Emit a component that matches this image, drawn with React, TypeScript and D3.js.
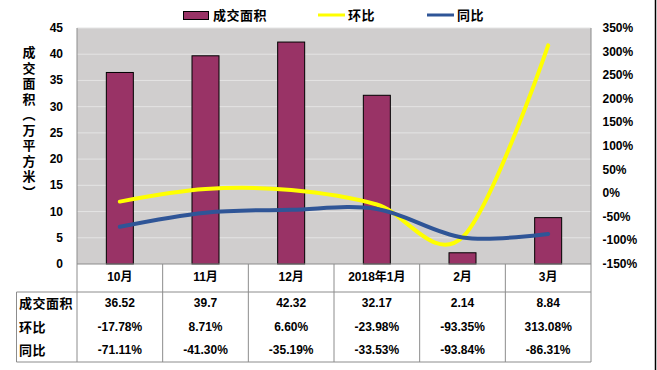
import React from "react";
import * as d3 from "d3";

const categories = ["10月", "11月", "12月", "2018年1月", "2月", "3月"];
const area = [36.52, 39.7, 42.32, 32.17, 2.14, 8.84];
const hb = [-17.78, 8.71, 6.6, -23.98, -93.35, 313.08];
const tb = [-71.11, -41.3, -35.19, -33.53, -93.84, -86.31];
const areaLabels = ["36.52", "39.7", "42.32", "32.17", "2.14", "8.84"];
const hbLabels = ["-17.78%", "8.71%", "6.60%", "-23.98%", "-93.35%", "313.08%"];
const tbLabels = ["-71.11%", "-41.30%", "-35.19%", "-33.53%", "-93.84%", "-86.31%"];
const leftTicks = [0, 5, 10, 15, 20, 25, 30, 35, 40, 45];
const rightTicks = [-150, -100, -50, 0, 50, 100, 150, 200, 250, 300, 350];
const seriesNames = ["成交面积", "环比", "同比"];
const yTitle = "成交面积（万平方米）";

const W = 657, H = 370;
const L = 77, R = 591, T = 28, B = 264;
const rowCat = 292, tableBottom = 362;
const tableLeft = 16.5;

const font = "'Liberation Sans', Arial, sans-serif";
const cjk = "'Noto Sans CJK SC', sans-serif";

export default function App() {
  const x = d3.scaleBand<string>().domain(categories).range([L, R]).paddingInner(0).paddingOuter(0);
  const yL = d3.scaleLinear().domain([0, 45]).range([B, T]);
  const yR = d3.scaleLinear().domain([-150, 350]).range([B, T]);
  const bw = x.bandwidth();
  const barW = 27;
  const cx = (c: string) => (x(c) as number) + bw / 2;
  const line = d3
    .line<number>()
    .x((_, i) => cx(categories[i]))
    .y((d) => yR(d))
    .curve(d3.curveCatmullRom.alpha(0));

  const rows = [
    { name: seriesNames[0], labels: areaLabels, y: 303 },
    { name: seriesNames[1], labels: hbLabels, y: 327 },
    { name: seriesNames[2], labels: tbLabels, y: 350 },
  ];
  const gray = "#8c8c8c";

  return (
    <svg width={W} height={H} style={{ position: "absolute", left: 0, top: 0, background: "#fff" }}>
      {/* plot area */}
      <rect x={L} y={T} width={R - L} height={B - T} fill="#d0cece" />
      {leftTicks.slice(1).map((t) => (
        <line key={t} x1={L} x2={R} y1={yL(t)} y2={yL(t)} stroke="#e4e4e4" strokeWidth={1} />
      ))}
      <line x1={L} x2={L} y1={T} y2={B} stroke={gray} />
      <line x1={R} x2={R} y1={T} y2={B} stroke={gray} />

      {/* bars */}
      {area.map((v, i) => (
        <rect
          key={i}
          x={cx(categories[i]) - barW / 2}
          y={yL(v)}
          width={barW}
          height={B - yL(v)}
          fill="#993366"
          stroke="#000"
          strokeWidth={1}
        />
      ))}

      {/* lines */}
      <path d={line(hb) || ""} fill="none" stroke="#ffff00" strokeWidth={4} strokeLinecap="round" />
      <path d={line(tb) || ""} fill="none" stroke="#2f5597" strokeWidth={4} strokeLinecap="round" />

      {/* left ticks */}
      {leftTicks.map((t) => (
        <text key={t} x={63} y={yL(t) + 4} textAnchor="end" fontFamily={font} fontWeight="bold" fontSize={12} fill="#000">
          {t}
        </text>
      ))}
      {/* right ticks */}
      {rightTicks.map((t) => (
        <text key={t} x={602.5} y={yR(t) + 4} textAnchor="start" fontFamily={font} fontWeight="bold" fontSize={12} fill="#000">
          {t + "%"}
        </text>
      ))}

      {/* y title */}
      <text
        x={29}
        y={46}
        fontFamily={cjk}
        fontWeight="bold"
        fontSize={13}
        fill="#000"
        style={{ writingMode: "vertical-rl", letterSpacing: "2.5px" } as any}
      >
        {yTitle}
      </text>

      {/* table */}
      <line x1={L} x2={L} y1={B} y2={tableBottom} stroke={gray} />
      <line x1={tableLeft} x2={R} y1={rowCat} y2={rowCat} stroke={gray} />
      <line x1={tableLeft} x2={tableLeft} y1={rowCat} y2={tableBottom} stroke={gray} />
      <line x1={tableLeft} x2={R} y1={tableBottom} y2={tableBottom} stroke={gray} />
      <line x1={L} x2={R} y1={B} y2={B} stroke={gray} />
      {categories.map((c) => (
        <line key={c} x1={(x(c) as number) + bw} x2={(x(c) as number) + bw} y1={B} y2={tableBottom} stroke={gray} />
      ))}
      {categories.map((c) => (
        <text key={c} x={cx(c)} y={281} textAnchor="middle" fontFamily={`${font}, ${cjk}`} fontWeight="bold" fontSize={12} fill="#000">
          {c}
        </text>
      ))}
      {rows.map((r) => (
        <g key={r.name}>
          <text x={19} y={r.y + 5} fontFamily={cjk} fontWeight="bold" fontSize={13} fill="#000" style={{ letterSpacing: "0.5px" }}>
            {r.name}
          </text>
          {r.labels.map((lab, i) => (
            <text key={i} x={cx(categories[i])} y={r.y + 4} textAnchor="middle" fontFamily={font} fontWeight="bold" fontSize={12} fill="#000">
              {lab}
            </text>
          ))}
        </g>
      ))}

      {/* legend */}
      <rect x={183.5} y={11.5} width={25} height={8} fill="#993366" stroke="#000" />
      <text x={213} y={20} fontFamily={cjk} fontWeight="bold" fontSize={13} fill="#000" style={{ letterSpacing: "0.5px" }}>
        {seriesNames[0]}
      </text>
      <line x1={318} x2={345} y1={15} y2={15} stroke="#ffff00" strokeWidth={3} />
      <text x={348} y={20} fontFamily={cjk} fontWeight="bold" fontSize={13} fill="#000" style={{ letterSpacing: "0.5px" }}>
        {seriesNames[1]}
      </text>
      <line x1={427} x2={454} y1={15} y2={15} stroke="#2f5597" strokeWidth={3} />
      <text x={457} y={20} fontFamily={cjk} fontWeight="bold" fontSize={13} fill="#000" style={{ letterSpacing: "0.5px" }}>
        {seriesNames[2]}
      </text>

      {/* right border */}
      <line x1={655.5} x2={655.5} y1={0} y2={H} stroke="#000" strokeWidth={1.5} />
    </svg>
  );
}
